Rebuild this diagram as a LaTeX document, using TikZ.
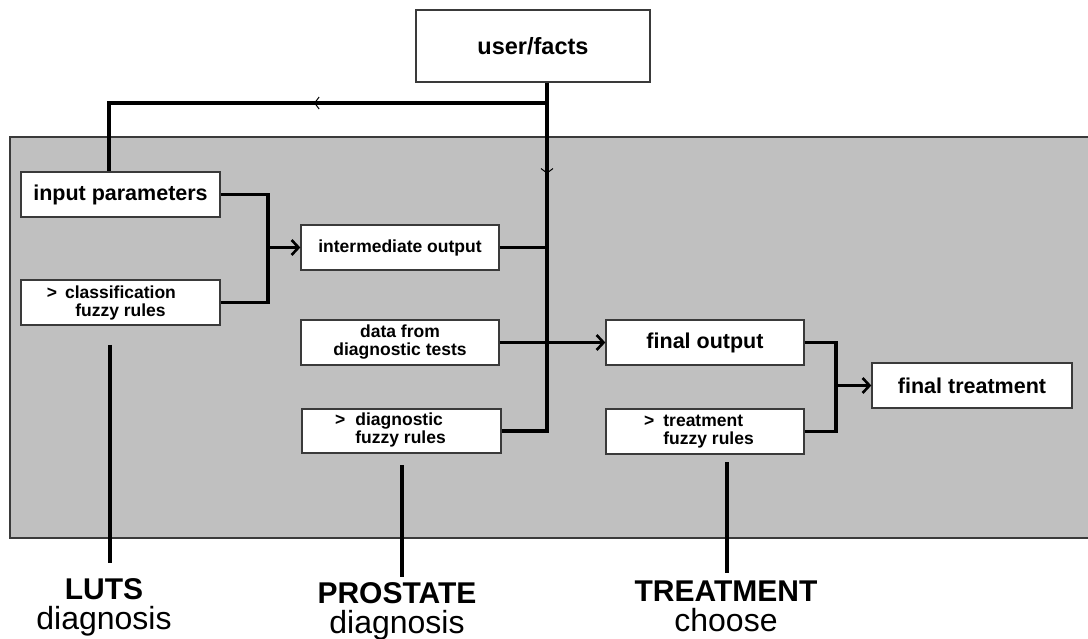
\documentclass[tikz,border=0pt]{standalone}
\usepackage{fontspec}
\setmainfont{Liberation Sans}
\usetikzlibrary{arrows.meta,decorations.markings}
\definecolor{panel}{HTML}{C0C0C0}
\definecolor{edge}{HTML}{3A3A3A}
\begin{document}
\begin{tikzpicture}[x=1pt,y=-1pt,
  box/.style={draw=edge,line width=1.3pt,fill=white,inner sep=0pt,align=center,
    font=\bfseries\fontsize{17.5}{18}\selectfont},
  bigtext/.style={font=\bfseries\fontsize{21.5}{22}\selectfont},
  conn/.style={line width=3.2pt},
  arr/.style={conn,-{Straight Barb[length=7pt,width=15pt,line width=2.6pt]}},
  midarrow/.style={postaction={decorate},decoration={markings,
    mark=at position #1 with {\arrow[line width=1pt]{Straight Barb[length=4.5pt,width=12pt]}}}},
  tickline/.style={line width=3.8pt},
  lab/.style={align=center,inner sep=0pt,anchor=north,font=\fontsize{32}{30}\selectfont}
]
\useasboundingbox (0,0) rectangle (1088,639);

% panel
\fill[panel] (10,137) rectangle (1092,538);
\draw[edge,line width=1.3pt] (1092,137) -- (10,137) -- (10,538) -- (1092,538);

% coordinates
\coordinate (j1) at (547,103);
\coordinate (j1l) at (109,103);
\coordinate (m1) at (268,247.5);
\coordinate (m2) at (836,385.5);
\coordinate (t1) at (110,345);
\coordinate (t2) at (402,465);
\coordinate (t3) at (727,462);

% boxes
\node[box,font=\bfseries\fontsize{23.5}{24}\selectfont,minimum width=234pt,minimum height=72pt] (uf) at (533,46) {user/facts};
\node[box,bigtext,minimum width=199pt,minimum height=45pt] (ip) at (120.5,194.5) {input parameters};
\node[box,minimum width=199pt,minimum height=45pt] (cfr) at (120.5,302.5)
  {\llap{>\hspace{8pt}}classification\\fuzzy rules};
\node[box,minimum width=198pt,minimum height=45pt] (io) at (400,247.5) {intermediate output};
\node[box,minimum width=198pt,minimum height=45pt] (dt) at (400,342.5) {data from\\diagnostic tests};
\node[box,minimum width=199pt,minimum height=44pt] (dfr) at (401.5,431)
  {\begin{tabular}{@{}l@{\hspace{10pt}}l@{}}>&diagnostic\\&fuzzy rules\end{tabular}\hspace{22pt}};
\node[box,bigtext,minimum width=198pt,minimum height=45pt] (fo) at (705,342.5) {final output};
\node[box,minimum width=198pt,minimum height=45pt] (tfr) at (705,431.5)
  {\begin{tabular}{@{}l@{\hspace{9pt}}l@{}}>&treatment\\&fuzzy rules\end{tabular}\hspace{12pt}};
\node[box,bigtext,minimum width=200pt,minimum height=45pt] (ft) at (972,385.5) {final treatment};

% bottom labels
\node[lab] (lab1) at (104,578) {{\bfseries\fontsize{30}{30}\selectfont LUTS}\\diagnosis};
\node[lab] (lab2) at (397,582) {{\bfseries\fontsize{30}{30}\selectfont PROSTATE}\\diagnosis};
\node[lab] (lab3) at (726,581) {{\bfseries\fontsize{30}{30}\selectfont TREATMENT}\\choose};

% connectors
\draw[conn,midarrow=91pt] (uf.south -| j1) -- (j1 |- dfr.east) -- (dfr.east);
\draw[conn,midarrow=233pt] (j1) -- (j1l) -- (j1l |- ip.north);
\draw[conn] (io.east) -- (io.east -| j1);
\draw[conn] (ip.east) -| (m1);
\draw[conn] (cfr.east) -| (m1);
\draw[arr] (m1) -- (io.west);
\draw[arr] (dt.east) -- (fo.west);
\draw[conn] (fo.east) -| (m2);
\draw[conn] (tfr.east) -| (m2);
\draw[arr] (m2) -- (ft.west);

% label lines
\draw[tickline,shorten >=15pt] (t1) -- (t1 |- lab1.north);
\draw[tickline,shorten >=5pt] (t2) -- (t2 |- lab2.north);
\draw[tickline,shorten >=8pt] (t3) -- (t3 |- lab3.north);
\end{tikzpicture}
\end{document}
